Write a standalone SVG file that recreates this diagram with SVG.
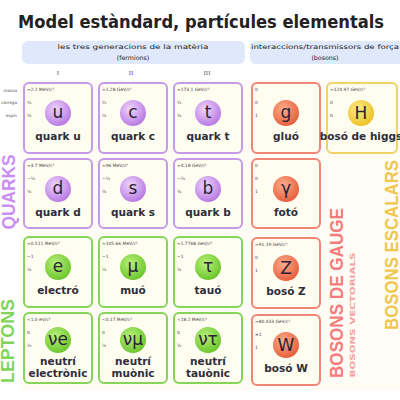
<svg xmlns="http://www.w3.org/2000/svg" width="400" height="400" viewBox="0 0 400 400">
<defs>
<radialGradient id="gq" cx="0.4" cy="0.35" r="0.7"><stop offset="0" stop-color="#efd6fc"/><stop offset="1" stop-color="#b574e2"/></radialGradient>
<radialGradient id="gl" cx="0.4" cy="0.35" r="0.7"><stop offset="0" stop-color="#b8f07a"/><stop offset="1" stop-color="#68c42a"/></radialGradient>
<radialGradient id="gg" cx="0.4" cy="0.35" r="0.7"><stop offset="0" stop-color="#fbae8e"/><stop offset="1" stop-color="#e65a36"/></radialGradient>
<radialGradient id="gh" cx="0.4" cy="0.35" r="0.7"><stop offset="0" stop-color="#fdeb88"/><stop offset="1" stop-color="#ecbf20"/></radialGradient>
</defs>
<style>
text{font-family:"DejaVu Sans","Liberation Sans",sans-serif}
.card{fill:#fffcf0;stroke-width:2}
.q .card{stroke:#c69ae9}
.l .card{stroke:#86d55a}
.b .card{stroke:#f08676}
.h .card{stroke:#f0d468}
.q circle{fill:url(#gq)}
.l circle{fill:url(#gl)}
.b circle{fill:url(#gg)}
.h circle{fill:url(#gh)}
.m{font-size:4.4px;fill:#444}
.sym{font-size:17px;fill:#2b2235;text-anchor:middle}
.nm{font-size:10.5px;font-weight:bold;fill:#2e2e3a;text-anchor:middle}
.hd{font-size:6.3px;fill:#222;text-anchor:middle}
.rn{font-size:7px;fill:#666;text-anchor:middle;font-family:"Liberation Serif",serif}
.lab{font-size:4.2px;fill:#555;text-anchor:end}
.side{font-size:17.5px;font-weight:bold;text-anchor:middle;font-family:"Liberation Sans",sans-serif}
</style>
<rect width="400" height="400" fill="#ffffff"/>
<rect x="20" y="80" width="380" height="310" fill="#fefcf4"/>
<text x="201" y="28" font-size="18" font-weight="bold" fill="#222" text-anchor="middle" textLength="366" lengthAdjust="spacingAndGlyphs">Model estàndard, partícules elementals</text>
<g id="header">
<rect x="22" y="41" width="223" height="23" rx="6" fill="#dfe9fb"/>
<rect x="250" y="41" width="160" height="23" rx="6" fill="#dfe9fb"/>
<text class="hd" x="133" y="49" textLength="151" lengthAdjust="spacingAndGlyphs">les tres generacions de la matèria</text>
<text class="hd" x="133" y="60">(fermions)</text>
<text class="hd" x="325" y="49" textLength="148" lengthAdjust="spacingAndGlyphs">interaccions/transmissors de força</text>
<text class="hd" x="325" y="60">(bosons)</text>
<text class="rn" x="58" y="75">I</text>
<text class="rn" x="131" y="75">II</text>
<text class="rn" x="207" y="75">III</text>
<text class="lab" x="17" y="92">massa</text>
<text class="lab" x="17" y="104">càrrega</text>
<text class="lab" x="17" y="117">espín</text>
</g>
<g id="connectors"/>
<!-- quarks -->
<g id="u" class="q" transform="translate(24,83)"><rect class="card" width="68" height="70" rx="5"/><text class="m" x="3" y="8">≈2.2 MeV/c²</text><text class="m" x="3" y="21">⅔</text><text class="m" x="3" y="34">½</text><circle cx="34" cy="30" r="13"/><text class="sym" x="34" y="35">u</text><text class="nm" x="34" y="57">quark u</text></g>
<g id="c" class="q" transform="translate(99,83)"><rect class="card" width="68" height="70" rx="5"/><text class="m" x="3" y="8">≈1.28 GeV/c²</text><text class="m" x="3" y="21">⅔</text><text class="m" x="3" y="34">½</text><circle cx="34" cy="30" r="13"/><text class="sym" x="34" y="35">c</text><text class="nm" x="34" y="57">quark c</text></g>
<g id="t" class="q" transform="translate(174,83)"><rect class="card" width="68" height="70" rx="5"/><text class="m" x="3" y="8">≈173.1 GeV/c²</text><text class="m" x="3" y="21">⅔</text><text class="m" x="3" y="34">½</text><circle cx="34" cy="30" r="13"/><text class="sym" x="34" y="35">t</text><text class="nm" x="34" y="57">quark t</text></g>
<g id="d" class="q" transform="translate(24,159)"><rect class="card" width="68" height="69" rx="5"/><text class="m" x="3" y="8">≈4.7 MeV/c²</text><text class="m" x="3" y="21">−⅓</text><text class="m" x="3" y="34">½</text><circle cx="34" cy="30" r="13"/><text class="sym" x="34" y="35">d</text><text class="nm" x="34" y="57">quark d</text></g>
<g id="s" class="q" transform="translate(99,159)"><rect class="card" width="68" height="69" rx="5"/><text class="m" x="3" y="8">≈96 MeV/c²</text><text class="m" x="3" y="21">−⅓</text><text class="m" x="3" y="34">½</text><circle cx="34" cy="30" r="13"/><text class="sym" x="34" y="35">s</text><text class="nm" x="34" y="57">quark s</text></g>
<g id="b" class="q" transform="translate(174,159)"><rect class="card" width="68" height="69" rx="5"/><text class="m" x="3" y="8">≈4.18 GeV/c²</text><text class="m" x="3" y="21">−⅓</text><text class="m" x="3" y="34">½</text><circle cx="34" cy="30" r="13"/><text class="sym" x="34" y="35">b</text><text class="nm" x="34" y="57">quark b</text></g>
<!-- leptons -->
<g id="e" class="l" transform="translate(24,237)"><rect class="card" width="68" height="70" rx="5"/><text class="m" x="3" y="8">≈0.511 MeV/c²</text><text class="m" x="3" y="21">−1</text><text class="m" x="3" y="34">½</text><circle cx="34" cy="30" r="13"/><text class="sym" x="34" y="35">e</text><text class="nm" x="34" y="57">electró</text></g>
<g id="mu" class="l" transform="translate(99,237)"><rect class="card" width="68" height="70" rx="5"/><text class="m" x="3" y="8">≈105.66 MeV/c²</text><text class="m" x="3" y="21">−1</text><text class="m" x="3" y="34">½</text><circle cx="34" cy="30" r="13"/><text class="sym" x="34" y="35">μ</text><text class="nm" x="34" y="57">muó</text></g>
<g id="tau" class="l" transform="translate(174,237)"><rect class="card" width="68" height="70" rx="5"/><text class="m" x="3" y="8">≈1.7768 GeV/c²</text><text class="m" x="3" y="21">−1</text><text class="m" x="3" y="34">½</text><circle cx="34" cy="30" r="13"/><text class="sym" x="34" y="35">τ</text><text class="nm" x="34" y="57">tauó</text></g>
<g id="nue" class="l" transform="translate(24,313)"><rect class="card" width="68" height="70" rx="5"/><text class="m" x="3" y="8">&lt;1.0 eV/c²</text><text class="m" x="3" y="21">0</text><text class="m" x="3" y="34">½</text><circle cx="34" cy="27" r="13"/><text class="sym" x="34" y="32" font-size="15">νe</text><text class="nm" x="34" y="52">neutrí</text><text class="nm" x="34" y="64">electrònic</text></g>
<g id="numu" class="l" transform="translate(99,313)"><rect class="card" width="68" height="70" rx="5"/><text class="m" x="3" y="8">&lt;0.17 MeV/c²</text><text class="m" x="3" y="21">0</text><text class="m" x="3" y="34">½</text><circle cx="34" cy="27" r="13"/><text class="sym" x="34" y="32" font-size="15">νμ</text><text class="nm" x="34" y="52">neutrí</text><text class="nm" x="34" y="64">muònic</text></g>
<g id="nutau" class="l" transform="translate(174,313)"><rect class="card" width="68" height="70" rx="5"/><text class="m" x="3" y="8">&lt;18.2 MeV/c²</text><text class="m" x="3" y="21">0</text><text class="m" x="3" y="34">½</text><circle cx="34" cy="27" r="13"/><text class="sym" x="34" y="32" font-size="15">ντ</text><text class="nm" x="34" y="52">neutrí</text><text class="nm" x="34" y="64">tauònic</text></g>
<!-- gauge bosons -->
<g id="g" class="b" transform="translate(252,83)"><rect class="card" width="68" height="70" rx="5"/><text class="m" x="3" y="8">0</text><text class="m" x="3" y="21">0</text><text class="m" x="3" y="34">1</text><circle cx="34" cy="30" r="13"/><text class="sym" x="34" y="35">g</text><text class="nm" x="34" y="57">gluó</text></g>
<g id="gamma" class="b" transform="translate(252,159)"><rect class="card" width="68" height="69" rx="5"/><text class="m" x="3" y="8">0</text><text class="m" x="3" y="21">0</text><text class="m" x="3" y="34">1</text><circle cx="34" cy="30" r="13"/><text class="sym" x="34" y="35">γ</text><text class="nm" x="34" y="57">fotó</text></g>
<g id="Z" class="b" transform="translate(252,238)"><rect class="card" width="68" height="70" rx="5"/><text class="m" x="3" y="8">≈91.19 GeV/c²</text><text class="m" x="3" y="21">0</text><text class="m" x="3" y="34">1</text><circle cx="34" cy="30" r="13"/><text class="sym" x="34" y="36">Z</text><text class="nm" x="34" y="57">bosó Z</text></g>
<g id="W" class="b" transform="translate(252,315)"><rect class="card" width="68" height="70" rx="5"/><text class="m" x="3" y="8">≈80.433 GeV/c²</text><text class="m" x="3" y="21">±1</text><text class="m" x="3" y="34">1</text><circle cx="34" cy="30" r="13"/><text class="sym" x="34" y="36">W</text><text class="nm" x="34" y="57">bosó W</text></g>
<!-- higgs -->
<g id="H" class="h" transform="translate(327,83)"><rect class="card" width="70" height="70" rx="5"/><text class="m" x="3" y="8">≈124.97 GeV/c²</text><text class="m" x="3" y="21">0</text><text class="m" x="3" y="34">0</text><circle cx="34" cy="30" r="13"/><text class="sym" x="34" y="36">H</text><text class="nm" x="34" y="57">bosó de higgs</text></g>
<!-- side labels -->
<text class="side" fill="#c98ef4" transform="translate(15,192) rotate(-90)" textLength="75" lengthAdjust="spacingAndGlyphs">QUARKS</text>
<text class="side" fill="#7fd45a" transform="translate(14,341) rotate(-90)" textLength="84" lengthAdjust="spacingAndGlyphs">LEPTONS</text>
<text class="side" fill="#f47c7c" transform="translate(343,293) rotate(-90)" textLength="170" lengthAdjust="spacingAndGlyphs">BOSONS DE GAUGE</text>
<text fill="#f6a2a2" font-size="7" font-weight="bold" font-family="Liberation Sans, sans-serif" text-anchor="middle" transform="translate(355,315) rotate(-90)" textLength="125" lengthAdjust="spacingAndGlyphs">BOSONS VECTORIALS</text>
<text class="side" fill="#f0c64e" transform="translate(398,245) rotate(-90)" textLength="170" lengthAdjust="spacingAndGlyphs">BOSONS ESCALARS</text>
</svg>
